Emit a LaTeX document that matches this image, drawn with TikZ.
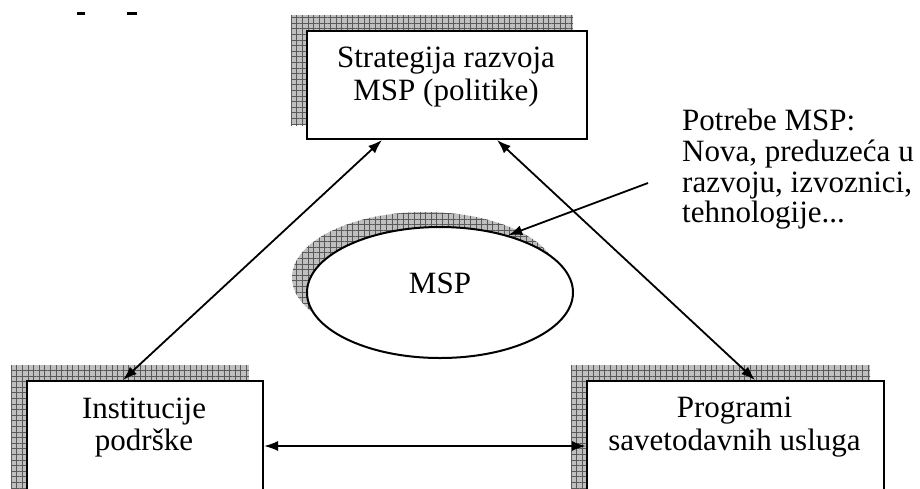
\documentclass[tikz,border=0pt]{standalone}
\usepackage{fontspec}
\setmainfont{Liberation Serif}
\usetikzlibrary{patterns.meta,arrows.meta,shapes.geometric,calc}
\pgfdeclarelayer{bg}
\pgfsetlayers{bg,main}
\begin{document}
\begin{tikzpicture}[x=1pt,y=-1pt,
  box/.style={draw,line width=2pt,fill=white,inner sep=0pt,anchor=north west},
  shade/.style={fill=gray!50,postaction={pattern={Hatch[angle=0,distance=5.6pt,line width=0.8pt]},pattern color=gray!70!black}},
  txt/.style={font=\fontsize{31}{34}\selectfont,inner sep=0pt},
  link/.style={line width=1.8pt,{Latex[length=14pt,width=10pt]}-{Latex[length=14pt,width=10pt]}},
  callout/.style={line width=1.8pt,-{Latex[length=14pt,width=10pt]}},
]
\useasboundingbox (0,0) rectangle (920,488);
\clip (0,0) rectangle (920,488);

% fragments of cut-off text at top left
\fill (77,12) rectangle (85,15);
\fill (127,12) rectangle (137,15);

% boxes
\node[box,minimum width=280pt,minimum height=108pt] (top) at (306,30) {};
\node[box,minimum width=236pt,minimum height=130pt] (inst) at (26,380) {};
\node[box,minimum width=297pt,minimum height=130pt] (prog) at (586,380) {};
\node[draw,ellipse,line width=2pt,fill=white,minimum width=266pt,minimum height=131pt,inner sep=0pt] (msp) at (440,292.5) {};

\begin{pgfonlayer}{bg}
  \path[shade] ([shift={(-15pt,15pt)}]top.north west) rectangle ([shift={(-15pt,15pt)}]top.south east);
  \path[shade] ([shift={(-15pt,15pt)}]inst.north west) rectangle ([shift={(-15pt,15pt)}]inst.south east);
  \path[shade] ([shift={(-15pt,15pt)}]prog.north west) rectangle ([shift={(-15pt,15pt)}]prog.south east);
  \path[shade] ([shift={(-15pt,15pt)}]msp.center) ellipse [x radius=133pt, y radius=65.5pt];
\end{pgfonlayer}

% texts
\node[txt,anchor=base] (s1) at (446,67) {Strategija razvoja};
\node[txt,anchor=base] (s2) at (446,100) {MSP (politike)};
\node[txt,anchor=base] (i1) at (144,418) {Institucije};
\node[txt,anchor=base] (i2) at (144,450) {podrške};
\node[txt,anchor=base] (g1) at (734.5,417) {Programi};
\node[txt,anchor=base] (g2) at (734.5,450) {savetodavnih usluga};
\node[txt,anchor=base] (m) at (440,293) {MSP};
\node[txt,anchor=base west] (p1) at (682,130) {Potrebe MSP:};
\node[txt,anchor=base west] (p2) at (682,161) {Nova, preduzeća u};
\node[txt,anchor=base west] (p3) at (682,192) {razvoju, izvoznici,};
\node[txt,anchor=base west] (p4) at (682,222) {tehnologije...};

% connectors
\coordinate (a1) at ([xshift=76pt]top.south west);
\coordinate (a2) at ([xshift=97pt]inst.north west);
\coordinate (b1) at ([xshift=191pt]top.south west);
\coordinate (b2) at ([xshift=169pt]prog.north west);
\coordinate (h1) at ([yshift=-66pt]inst.north east);
\coordinate (h2) at ([yshift=-66pt]prog.north west);
\coordinate (c1) at ([shift={(-34pt,9pt)}]p3.base west);

\draw[link] (a1) -- (a2);
\draw[link] (b1) -- (b2);
\draw[link] (h1) -- (h2);
\draw[callout] (c1) -- (msp.40);
\end{tikzpicture}
\end{document}
